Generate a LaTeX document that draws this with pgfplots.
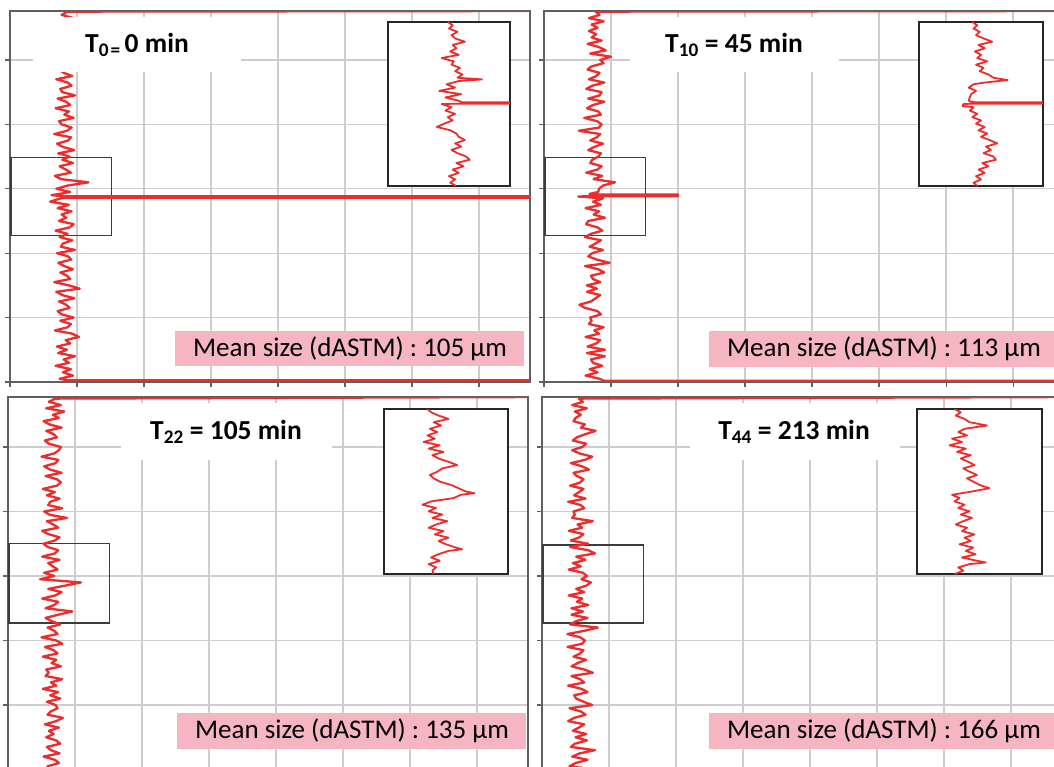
\documentclass[border=0pt]{standalone}
\usepackage{pgfplots}
\pgfplotsset{compat=1.18}
\usepackage{fontspec}
\setmainfont{Carlito}
\definecolor{tracered}{RGB}{236,45,45}
\definecolor{gridgray}{RGB}{205,205,205}
\definecolor{framegray}{RGB}{95,95,95}
\definecolor{rectgray}{RGB}{60,60,60}
\definecolor{pinkbox}{RGB}{246,182,193}
\pgfplotsset{
 mainax/.style={
  scale only axis, anchor=south west, xmin=0, ymin=0,
  xtick={0,10,...,70}, ytick={0,10,...,50},
  xticklabels={}, yticklabels={},
  grid=major, major grid style={draw=gridgray, line width=1.3pt},
  axis line style={draw=framegray, line width=1.2pt},
  every tick/.style={draw=framegray, line width=1.2pt},
  tick align=outside, major tick length=5pt,
  xtick pos=bottom, ytick pos=left,
 },
 insetax/.style={
  scale only axis, anchor=south west, xmin=0, xmax=100, ymin=0, ymax=100,
  ticks=none, axis line style={draw=black!85, line width=1.3pt},
  axis background/.style={fill=white},
 },
 trace/.style={tracered, line width=2.3pt, line join=round, no marks},
 itrace/.style={tracered, line width=1.8pt, line join=round, no marks},
}
\newcommand{\ttl}[1]{\bfseries\fontsize{27.5}{32}\selectfont #1}
\newcommand{\msz}[1]{\fontsize{27}{32}\selectfont #1}
\begin{document}
\begin{tikzpicture}
\useasboundingbox (0,0) rectangle (1054pt,-767pt);
\clip (0,0) rectangle (1054pt,-767pt);
% ---------------- TL ----------------
\begin{axis}[mainax, at={(10pt,-382pt)}, width=520pt, height=371pt, xmax=77.6, ymax=57.6]
\draw[rectgray, line width=1.2pt] (axis cs:0.15,22.8) rectangle (axis cs:15.2,34.9);
\addplot[trace] table[row sep=\\] {x y\\ 80 0.25\\ 8.7 0.25\\
7.4 0.5\\ 9.4 1\\ 7.9 1.5\\ 9.1 2\\ 6.8 2.5\\ 8.8 3\\ 8.0 3.5\\ 9.7 4\\ 7.2 4.5\\
8.5 5\\ 7.0 5.5\\ 9.0 6\\ 8.3 6.5\\ 10.3 7\\ 9.3 7.5\\ 6.7 8\\ 8.6 8.5\\ 9.1 9\\ 7.5 9.5\\
9.5 10\\ 7.7 10.5\\ 7.1 11\\ 8.9 11.5\\ 8.4 12\\ 7.3 12.5\\ 9.6 13\\ 7.8 13.5\\ 6.9 14\\ 10.4 14.5\\
8.8 15\\ 6.6 15.5\\ 9.0 16\\ 8.5 16.5\\ 7.5 17\\ 9.4 17.5\\ 8.1 18\\ 7.2 18.5\\ 9.1 19\\ 8.7 19.5\\
7.0 20\\ 9.7 20.5\\ 7.6 21\\ 7.9 21.5\\ 9.3 22\\ 7.4 22.5\\ 8.6 23\\ 6.8 23.5\\ 8.9 24\\ 9.5 24.5\\
7.3 25\\ 8.4 25.5\\ 7.7 26\\ 9.2 26.5\\ 7.1 27\\ 8.8 27.5\\ 6.0 28\\ 7.5 28.5\\ 8.0 28.6\\ 80 28.6\\ 80 28.85\\ 8.0 28.85\\ 6.2 29\\ 9.0 29.5\\
6.9 30\\ 8.6 30.5\\ 11.7 31\\ 7.6 31.5\\ 6.7 32\\ 9.1 32.5\\ 8.3 33\\ 7.4 33.5\\ 9.4 34\\ 7.8 34.5\\
8.9 35\\ 7.2 35.5\\ 9.6 36\\ 7.9 36.5\\ 7.0 37\\ 8.7 37.5\\ 9.1 38\\ 6.6 38.5\\ 8.5 39\\ 9.2 39.5\\
7.7 40\\ 7.3 40.5\\ 9.5 41\\ 8.1 41.5\\ 8.8 42\\ 6.8 42.5\\ 9.0 43\\ 8.4 43.5\\ 7.1 44\\ 9.7 44.5\\
7.8 45\\ 7.5 45.5\\ 9.2 46\\ 8.6 46.5\\ 6.9 47\\ 9.3 47.5\\ 8.0 48\\ 7.4 48.5\\ 9.4 49\\ 8.8 49.5\\
7.2 50\\ 8.5 50.5\\ 9.1 51\\ 6.7 51.5\\ 8.7 52\\ 9.6 52.5\\ 7.6 53\\ 7.9 53.5\\ 9.0 54\\ 7.0 54.5\\
8.3 55\\ 8.9 55.5\\ 7.3 56\\ 9.5 56.5\\ 7.7 57\\ 8.6 57.5\\ 80 57.6\\};
\end{axis}
% ---------------- TR ----------------
\begin{axis}[mainax, at={(544pt,-382pt)}, width=512pt, height=371pt, xmax=76.4, ymax=57.6]
\draw[rectgray, line width=1.2pt] (axis cs:0.15,22.8) rectangle (axis cs:15.1,34.9);
\addplot[trace] table[row sep=\\] {x y\\ 80 0.2\\ 8.9 0.2\\
8.3 0.5\\ 6.2 1\\ 8.0 1.5\\ 6.8 2\\ 8.7 2.5\\ 7.3 3\\ 7.0 3.5\\ 9.1 4\\ 6.4 4.5\\
9.1 5\\ 6.5 5.5\\ 7.8 6\\ 8.4 6.5\\ 6.2 7\\ 8.2 7.5\\ 7.5 8\\ 8.9 8.5\\ 6.7 9\\ 7.1 9.5\\
6.9 10\\ 8.5 10.5\\ 8.0 11\\ 6.1 11.5\\ 5.3 12\\ 7.0 12.5\\ 7.7 13\\ 8.4 13.5\\ 6.4 14\\ 7.9 14.5\\
6.4 15\\ 8.4 15.5\\ 7.3 16\\ 7.0 16.5\\ 9.0 17\\ 8.1 17.5\\ 6.1 18\\ 9.8 18.5\\ 7.9 19\\ 6.6 19.5\\
7.2 20\\ 8.8 20.5\\ 6.8 21\\ 7.7 21.5\\ 8.5 22\\ 6.1 22.5\\ 7.0 23\\ 8.7 23.5\\ 8.0 24\\ 6.3 24.5\\
6.6 25\\ 9.1 25.5\\ 7.4 26\\ 8.2 26.5\\ 6.2 27\\ 8.5 27.5\\ 7.3 28\\ 8.8 28.5\\ 5.1 28.8\\ 7.0 28.85\\ 20 28.85\\ 20 29.1\\ 7.0 29.1\\ 6.8 29.2\\ 8.1 29.5\\
8.2 30\\ 8.8 30.5\\ 10.6 31\\ 7.4 31.5\\ 8.7 32\\ 6.3 32.5\\ 8.0 33\\ 8.6 33.5\\ 6.9 34\\ 7.2 34.5\\
8.1 35\\ 8.5 35.5\\ 6.6 36\\ 7.5 36.5\\ 8.8 37\\ 6.9 37.5\\ 7.9 38\\ 8.4 38.5\\ 5.2 39\\ 8.2 39.5\\
8.6 40\\ 7.9 40.5\\ 6.0 41\\ 8.5 41.5\\ 8.1 42\\ 6.4 42.5\\ 7.3 43\\ 9.0 43.5\\ 6.6 44\\ 8.3 44.5\\
8.6 45\\ 6.3 45.5\\ 7.2 46\\ 9.0 46.5\\ 6.7 47\\ 7.8 47.5\\ 8.3 48\\ 6.5 48.5\\ 7.1 49\\ 8.9 49.5\\
8.4 50\\ 10.0 50.5\\ 6.9 51\\ 9.2 51.5\\ 8.2 52\\ 6.5 52.5\\ 8.6 53\\ 7.1 53.5\\ 7.8 54\\ 6.7 54.5\\
8.0 55\\ 7.1 55.5\\ 8.9 56\\ 6.7 56.5\\ 8.3 57\\ 7.7 57.5\\ 80 57.6\\};
\end{axis}
% ---------------- BL ----------------
\begin{axis}[mainax, at={(8pt,-769.5pt)}, width=520pt, height=372.5pt, xmax=77.6, ymax=57.75]
\draw[rectgray, line width=1.2pt] (axis cs:0.15,22.7) rectangle (axis cs:15.2,35.0);
\addplot[trace] table[row sep=\\] {x y\\ 80 0.2\\ 6.2 0.2\\
5.9 0.5\\ 7.6 1\\ 7.0 1.5\\ 5.3 2\\ 7.7 2.5\\ 6.4 3\\ 5.8 3.5\\ 7.8 4\\ 7.2 4.5\\
5.7 5\\ 6.8 5.5\\ 6.1 6\\ 7.6 6.5\\ 5.5 7\\ 7.2 7.5\\ 8.2 8\\ 5.9 8.5\\ 6.4 9\\ 7.4 9.5\\
7.1 10\\ 5.8 10.5\\ 7.8 11\\ 6.3 11.5\\ 7.5 12\\ 5.2 12.5\\ 7.2 13\\ 6.4 13.5\\ 8.1 14\\ 5.6 14.5\\
6.1 15\\ 5.7 15.5\\ 7.9 16\\ 6.5 16.5\\ 7.2 17\\ 5.2 17.5\\ 7.4 18\\ 6.8 18.5\\ 5.5 19\\ 8.1 19.5\\
7.2 20\\ 5.0 20.5\\ 7.4 21\\ 6.9 21.5\\ 5.9 22\\ 7.8 22.5\\ 6.5 23\\ 5.6 23.5\\ 7.5 24\\ 9.6 24.5\\
5.6 25\\ 6.9 25.5\\ 7.5 26\\ 5.1 26.5\\ 7.1 27\\ 8.0 27.5\\ 6.0 28\\ 8.5 28.5\\ 10.9 29\\ 4.8 29.5\\
6.9 30\\ 5.4 30.5\\ 7.4 31\\ 6.7 31.5\\ 6.0 32\\ 7.7 32.5\\ 5.1 33\\ 7.0 33.5\\ 7.5 34\\ 5.9 34.5\\
5.3 35\\ 7.0 35.5\\ 7.7 36\\ 6.0 36.5\\ 5.1 37\\ 7.5 37.5\\ 6.7 38\\ 5.8 38.5\\ 8.8 39\\ 6.2 39.5\\
5.4 40\\ 8.1 40.5\\ 6.0 41\\ 6.3 41.5\\ 7.7 42\\ 5.8 42.5\\ 7.0 43\\ 5.2 43.5\\ 7.3 44\\ 7.9 44.5\\
7.3 45\\ 5.6 45.5\\ 8.0 46\\ 6.3 46.5\\ 5.4 47\\ 7.1 47.5\\ 7.5 48\\ 5.0 48.5\\ 6.9 49\\ 7.6 49.5\\
7.9 50\\ 6.1 50.5\\ 5.5 51\\ 7.3 51.5\\ 6.8 52\\ 5.7 52.5\\ 8.0 53\\ 6.2 53.5\\ 5.3 54\\ 7.6 54.5\\
6.7 55\\ 8.4 55.5\\ 5.7 56\\ 7.9 56.5\\ 6.1 57\\ 7.0 57.5\\ 80 57.75\\};
\end{axis}
% ---------------- BR ----------------
\begin{axis}[mainax, at={(542pt,-769.5pt)}, width=514pt, height=372.5pt, xmax=76.7, ymax=57.75]
\draw[rectgray, line width=1.2pt] (axis cs:0.15,22.7) rectangle (axis cs:15.1,34.8);
\addplot[trace] table[row sep=\\] {x y\\ 80 0.2\\ 6.4 0.2\\
4.1 0.5\\ 5.0 1\\ 6.8 1.5\\ 4.5 2\\ 5.6 2.5\\ 7.9 3\\ 4.3 3.5\\ 4.9 4\\ 6.7 4.5\\
5.0 5\\ 6.6 5.5\\ 4.6 6\\ 5.5 6.5\\ 6.3 7\\ 3.9 7.5\\ 4.8 8\\ 6.5 8.5\\ 5.8 9\\ 4.1 9.5\\
7.5 10\\ 6.2 10.5\\ 5.1 11\\ 4.8 11.5\\ 6.8 12\\ 5.9 12.5\\ 3.9 13\\ 6.3 13.5\\ 5.7 14\\ 4.4 14.5\\
7.6 15\\ 6.3 15.5\\ 4.4 16\\ 5.3 16.5\\ 6.6 17\\ 4.7 17.5\\ 5.7 18\\ 6.2 18.5\\ 3.8 19\\ 6.0 19.5\\
6.4 20\\ 5.7 20.5\\ 3.8 21\\ 6.3 21.5\\ 8.3 22\\ 4.2 22.5\\ 5.1 23\\ 6.8 23.5\\ 4.4 24\\ 6.1 24.5\\
4.4 25\\ 6.9 25.5\\ 5.2 26\\ 6.0 26.5\\ 4.0 27\\ 6.3 27.5\\ 5.1 28\\ 6.6 28.5\\ 7.3 29\\ 5.9 29.5\\
6.7 30\\ 6.1 30.5\\ 4.0 31\\ 5.8 31.5\\ 4.6 32\\ 6.5 32.5\\ 5.1 33\\ 7.9 33.5\\ 6.9 34\\ 4.2 34.5\\
6.9 35\\ 4.3 35.5\\ 5.6 36\\ 6.2 36.5\\ 4.0 37\\ 6.0 37.5\\ 5.3 38\\ 7.6 38.5\\ 4.5 39\\ 4.9 39.5\\
4.7 40\\ 6.3 40.5\\ 5.8 41\\ 3.9 41.5\\ 6.5 42\\ 4.8 42.5\\ 5.5 43\\ 6.2 43.5\\ 4.2 44\\ 5.7 44.5\\
6.2 45\\ 5.2 45.5\\ 4.7 46\\ 7.0 46.5\\ 6.0 47\\ 4.3 47.5\\ 6.4 48\\ 7.5 48.5\\ 5.6 49\\ 4.5 49.5\\
6.0 50\\ 6.6 50.5\\ 4.6 51\\ 5.2 51.5\\ 6.5 52\\ 8.0 52.5\\ 5.8 53\\ 6.4 53.5\\ 4.7 54\\ 5.0 54.5\\
5.8 55\\ 4.9 55.5\\ 6.7 56\\ 4.5 56.5\\ 6.1 57\\ 5.5 57.5\\ 80 57.75\\};
\end{axis}
% ---------------- insets ----------------
\begin{axis}[insetax, at={(388pt,-186pt)}, width=122pt, height=164pt]
\addplot[itrace] table[row sep=\\] {x y\\
49 100\\ 53 98\\ 50 96\\ 57 94\\ 52 92\\ 55 90\\ 63 88\\ 53 86\\ 56 84\\ 51 82\\ 58 80\\ 44 78\\ 54 76\\ 52 74\\ 59 72\\ 55 70\\ 61 68\\ 57 66\\ 77 65\\ 58 64\\ 48 62\\ 55 60\\ 42 58\\ 60 56\\ 47 54\\ 58 52\\ 60 51.1\\ 100 51.1\\ 100 50.2\\ 60 50.2\\ 44 50\\ 52 48\\ 47 46\\ 55 44\\ 49 42\\ 53 40\\ 46 38\\ 40 36\\ 51 34\\ 56 32\\ 58 30\\ 63 28\\ 55 26\\ 60 24\\ 52 22\\ 57 20\\ 64 18\\ 67 16\\ 56 14\\ 62 12\\ 53 10\\ 58 8\\ 50 6\\ 55 4\\ 51 2\\ 56 0\\};
\end{axis}
\begin{axis}[insetax, at={(919pt,-186pt)}, width=124pt, height=164pt]
\addplot[itrace] table[row sep=\\] {x y\\
43 100\\ 47 98\\ 44 96\\ 49 94\\ 46 92\\ 52 90\\ 59 88\\ 48 86\\ 53 84\\ 45 82\\ 50 80\\ 47 78\\ 55 76\\ 46 74\\ 52 72\\ 49 70\\ 56 68\\ 60 66\\ 71.5 64.6\\ 52 63\\ 44 62\\ 40 60\\ 46 58\\ 42 56\\ 41 54\\ 40 52\\ 42 51.4\\ 45 51.1\\ 100 51.1\\ 100 50.2\\ 45 50.2\\ 36 50\\ 35 48.8\\ 44 48\\ 41 46\\ 47 44\\ 43 42\\ 50 40\\ 46 38\\ 53 36\\ 48 34\\ 55 32\\ 50 30\\ 57 28\\ 63 26\\ 54 24\\ 58 22\\ 52 20\\ 60 18\\ 62 16\\ 51 14\\ 56 12\\ 48 10\\ 53 8\\ 46 6\\ 50 4\\ 44 2\\ 47 0\\};
\end{axis}
\begin{axis}[insetax, at={(384pt,-574pt)}, width=124pt, height=165pt]
\addplot[itrace] table[row sep=\\] {x y\\
35 100\\ 38 98\\ 44 96\\ 52 94\\ 40 92\\ 46 90\\ 37 88\\ 43 86\\ 35 84\\ 41 82\\ 32 80\\ 45 78\\ 36 76\\ 48 74\\ 39 72\\ 44 70\\ 52 68\\ 59 66\\ 47 64\\ 43 62\\ 37 60\\ 40 58\\ 45 56\\ 54 54\\ 60 52\\ 66 50\\ 73 49\\ 62 48\\ 56 46\\ 38 44\\ 31 42\\ 42 40\\ 36 38\\ 47 36\\ 39 34\\ 51 32\\ 42 30\\ 36 28\\ 48 26\\ 41 24\\ 52 22\\ 44 20\\ 50 18\\ 58 16\\ 63 15\\ 52 14\\ 44 12\\ 38 10\\ 45 8\\ 36 6\\ 42 4\\ 39 2\\ 40 0\\};
\end{axis}
\begin{axis}[insetax, at={(917pt,-574pt)}, width=125pt, height=165pt]
\addplot[itrace] table[row sep=\\] {x y\\
30 100\\ 35 98\\ 31 96\\ 38 94\\ 42 92\\ 56 90\\ 38 88\\ 33 86\\ 40 84\\ 28 82\\ 36 80\\ 26 78\\ 39 76\\ 32 74\\ 43 72\\ 35 70\\ 41 68\\ 46 66\\ 37 64\\ 42 62\\ 48 60\\ 40 58\\ 45 56\\ 50 54\\ 58 52\\ 44 50\\ 28 48\\ 34 46\\ 30 44\\ 38 42\\ 33 40\\ 42 38\\ 35 36\\ 44 34\\ 37 32\\ 31 30\\ 40 28\\ 36 26\\ 46 24\\ 38 22\\ 43 20\\ 34 18\\ 45 16\\ 39 14\\ 47 12\\ 36 10\\ 48 8\\ 55 7\\ 42 6\\ 33 4\\ 37 2\\ 30 0\\};
\end{axis}
% ---------------- titles ----------------
\fill[white] (33pt,-17pt) rectangle (241pt,-72pt);
\node at (137pt,-45pt) {\ttl{T\textsubscript{0\hspace{0.1em}=}\hspace{0.15em}0 min}};
\fill[white] (630pt,-17pt) rectangle (839pt,-72pt);
\node at (734pt,-45pt) {\ttl{T\textsubscript{10}\hspace{0.22em}= 45 min}};
\fill[white] (121pt,-403pt) rectangle (332pt,-460pt);
\node at (226pt,-432pt) {\ttl{T\textsubscript{22}\hspace{0.22em}= 105 min}};
\fill[white] (690pt,-403pt) rectangle (900pt,-460pt);
\node at (794pt,-432pt) {\ttl{T\textsubscript{44}\hspace{0.22em}= 213 min}};
% ---------------- mean size boxes ----------------
\fill[pinkbox] (175pt,-331pt) rectangle (524pt,-366pt);
\node at (350pt,-348.5pt) {\msz{Mean size (dASTM) : 105 µm}};
\fill[pinkbox] (709pt,-331pt) rectangle (1056pt,-367pt);
\node at (884pt,-349pt) {\msz{Mean size (dASTM) : 113 µm}};
\fill[pinkbox] (177pt,-713pt) rectangle (526pt,-749pt);
\node at (352pt,-731pt) {\msz{Mean size (dASTM) : 135 µm}};
\fill[pinkbox] (709pt,-713pt) rectangle (1056pt,-749pt);
\node at (884pt,-731pt) {\msz{Mean size (dASTM) : 166 µm}};
\end{tikzpicture}
\end{document}
